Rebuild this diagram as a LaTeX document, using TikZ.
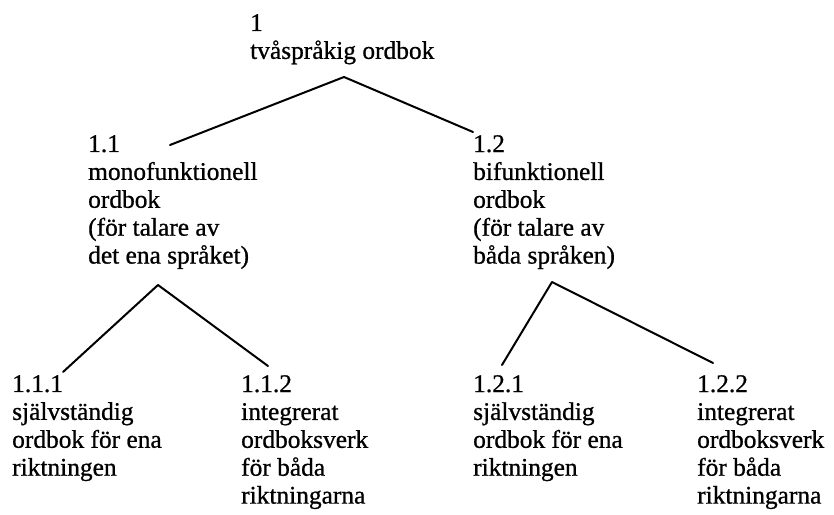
\documentclass[tikz,border=0pt]{standalone}
\usepackage{fontspec}
\setmainfont{Liberation Serif}
% slightly heavier serif face for the entries
\newfontfamily\entryfont{Liberation Serif}[FakeBold=0.8]
\begin{document}
\begin{tikzpicture}[x=1bp,y=-1bp,
  entry/.style={anchor=north west, inner sep=0pt, align=left,
    font=\entryfont\fontsize{25.5}{28}\selectfont},
  branch/.style={line width=2bp, line cap=round, line join=round}]
\useasboundingbox (0,0) rectangle (834,515);

% level 0
\node[entry] (n1) at (250,14) {1\\tvåspråkig ordbok};

% level 1
\node[entry] (n11) at (88,135) {1.1\\monofunktionell\\ordbok\\(för talare av\\det ena språket)};
\node[entry] (n12) at (473,135) {1.2\\bifunktionell\\ordbok\\(för talare av\\båda språken)};

% level 2
\node[entry] (n111) at (12,375) {1.1.1\\självständig\\ordbok för ena\\riktningen};
\node[entry] (n112) at (241,375) {1.1.2\\integrerat\\ordboksverk\\för båda\\riktningarna};
\node[entry] (n121) at (473,375) {1.2.1\\självständig\\ordbok för ena\\riktningen};
\node[entry] (n122) at (697,375) {1.2.2\\integrerat\\ordboksverk\\för båda\\riktningarna};

% branch points
\coordinate (t1) at (344,77);
\coordinate (e11) at (170,145);
\coordinate (e12) at (473,132);
\coordinate (t11) at (158,285);
\coordinate (e111) at (63,372);
\coordinate (e112) at (268,366);
\coordinate (t12) at (552,282);
\coordinate (e121) at (502,365);
\coordinate (e122) at (713,363);

\draw[branch] (e11) -- (t1) -- (e12);
\draw[branch] (e111) -- (t11) -- (e112);
\draw[branch] (e121) -- (t12) -- (e122);
\end{tikzpicture}
\end{document}
